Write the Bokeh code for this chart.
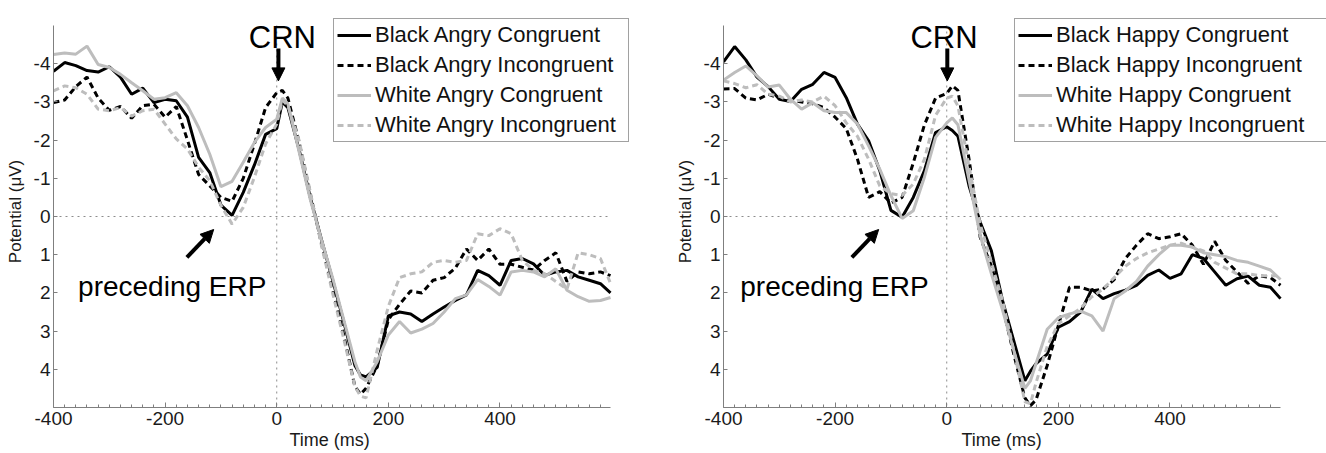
from bokeh.plotting import figure
from bokeh.models import (Range1d, FixedTicker, Legend, LegendItem, Label, Arrow, NormalHead,
                          Title)
from bokeh.layouts import row
from bokeh.embed import file_html
from bokeh.resources import INLINE

# ---------------- data ----------------
time_ms = [-400, -380, -360, -340, -320, -300, -280, -260, -240, -220, -200, -180, -160, -140,
           -120, -100, -80, -60, -40, -20, 0, 10, 20, 40, 60, 80, 100, 120, 140, 150, 160, 180,
           200, 220, 240, 260, 280, 300, 320, 340, 360, 380, 400, 420, 440, 460, 480, 500, 520,
           540, 560, 580, 598]

black_angry_congruent = [-3.8, -4.03, -3.95, -3.82, -3.78, -3.92, -3.65, -3.2, -3.36, -2.98, -3.07, -3.03,
                         -2.6, -1.55, -1.15, -0.3, -0.03, -0.63, -1.35, -2.15,
                         -2.3, -3.0, -2.85, -1.75, -0.5, 0.6, 1.65, 2.75, 3.9, 4.15, 4.2, 3.95, 2.6, 2.5,
                         2.55, 2.75, 2.55, 2.37, 2.2, 2.05, 1.41, 1.55, 1.8, 1.15, 1.1, 1.24, 1.54, 1.45,
                         1.41, 1.58, 1.67, 1.76, 2.0]
black_angry_incongruent = [-2.98, -3.05, -3.4, -3.65, -3.1, -2.78, -2.88, -2.57, -2.9, -2.94, -2.6, -2.88,
                           -2.0, -1.1, -0.8, -0.5, -0.4, -1.0, -1.9, -2.85,
                           -3.24, -3.3, -3.1, -1.95, -0.6, 0.7, 1.9, 3.1, 4.45, 4.65, 4.5, 3.9, 2.7, 2.3,
                           1.95, 2.0, 1.67, 1.6, 1.35, 0.85, 1.15, 0.85, 1.25, 1.25, 1.33, 1.4, 1.15, 0.95,
                           1.7, 1.45, 1.5, 1.45, 1.55]
white_angry_congruent = [-4.24, -4.28, -4.25, -4.46, -3.98, -3.9, -3.72, -3.5, -3.29, -3.07, -3.11, -3.24,
                         -2.9, -2.33, -1.63, -0.78, -0.92, -1.42, -1.94, -2.33,
                         -2.55, -3.1, -2.95, -1.7, -0.45, 0.6, 1.6, 2.7, 3.8, 4.2, 4.3, 3.8, 3.1, 2.75,
                         3.05, 2.95, 2.8, 2.5, 2.15, 2.05, 1.65, 1.83, 2.06, 1.45, 1.41, 1.45, 1.58, 1.37,
                         1.93, 2.1, 2.22, 2.2, 2.12]
white_angry_incongruent = [-3.29, -3.42, -3.37, -3.2, -2.81, -2.77, -2.85, -2.63, -2.77, -2.81, -2.42, -2.03,
                           -1.77, -1.29, -0.94, -0.29, 0.2, -0.24, -1.03, -1.9,
                           -2.42, -3.05, -2.9, -2.0, -0.65, 0.75, 2.0, 3.2, 4.45, 4.7, 4.75, 3.5, 2.35, 1.6,
                           1.5, 1.45, 1.2, 1.15, 1.2, 1.15, 0.45, 0.5, 0.32, 0.45, 1.15, 1.41, 1.5, 1.7,
                           1.9, 0.95, 1.0, 1.1, 1.75]

black_happy_congruent = [-4.05, -4.45, -4.1, -3.65, -3.4, -3.07, -3.01, -3.33, -3.46, -3.77, -3.64, -3.11,
                         -2.42, -1.98, -1.2, -0.16, 0.02, -0.5, -1.2, -2.2,
                         -2.35, -2.25, -2.1, -0.8, 0.15, 0.9, 2.2, 3.25, 4.3, 4.05, 3.85, 3.6, 2.9, 2.75,
                         2.5, 1.9, 2.15, 2.02, 1.93, 1.8, 1.54, 1.4, 1.62, 1.5, 1.0, 1.1, 1.45, 1.8,
                         1.63, 1.56, 1.8, 1.85, 2.15]
black_happy_incongruent = [-3.34, -3.35, -3.1, -3.05, -3.2, -3.1, -3.05, -3.0, -2.95, -2.85, -2.6, -2.3,
                           -1.5, -0.5, -0.65, -0.35, -0.5, -1.4, -2.4, -3.1,
                           -3.22, -3.42, -3.3, -1.5, 0.55, 1.3, 2.35, 3.6, 4.75, 4.95, 4.8, 3.9, 2.85, 1.85,
                           1.85, 1.95, 1.9, 1.65, 1.1, 0.75, 0.45, 0.58, 0.53, 0.45, 0.75, 1.25, 0.65, 1.15,
                           1.45, 1.75, 1.55, 1.6, 1.8]
white_happy_congruent = [-3.57, -3.77, -3.94, -3.68, -3.39, -3.44, -3.07, -2.81, -2.98, -2.77, -2.72, -2.72,
                         -2.42, -1.85, -1.24, -0.55, 0.05, -0.15, -1.03, -2.07,
                         -2.45, -2.58, -2.4, -0.95, 0.5, 1.5, 2.45, 3.5, 4.5, 4.3, 3.85, 2.95, 2.65, 2.55,
                         2.48, 2.6, 3.0, 2.15, 1.95, 1.7, 1.3, 1.0, 0.75, 0.75, 0.8, 0.95, 1.0, 1.05,
                         1.15, 1.2, 1.3, 1.4, 1.65]
white_happy_incongruent = [-3.55, -3.48, -3.37, -3.45, -3.2, -3.15, -3.0, -3.05, -3.0, -3.15, -2.9, -2.45,
                           -2.1, -1.5, -0.8, -0.6, -0.55, -0.85, -1.5, -2.65,
                           -3.1, -3.15, -2.9, -1.3, 0.2, 1.2, 2.2, 3.5, 4.85, 4.9, 4.35, 3.4, 2.8, 2.6,
                           2.4, 2.1, 1.9, 1.6, 1.3, 1.1, 0.95, 0.85, 0.75, 0.7, 0.8, 0.9, 1.2, 1.35,
                           1.5, 1.5, 1.55, 1.55, 1.55]

angry_labels = ["Black Angry Congruent", "Black Angry Incongruent",
                "White Angry Congruent", "White Angry Incongruent"]
happy_labels = ["Black Happy Congruent", "Black Happy Incongruent",
                "White Happy Congruent", "White Happy Incongruent"]
x_major_ticks = [-400, -200, 0, 200, 400]
y_major_ticks = [-4, -3, -2, -1, 0, 1, 2, 3, 4]
x_limits = (-400, 598)
y_limits = (-5, 5)

# ---------------- styling ----------------
FONT = "Liberation Sans"
BLACK = "#000000"
GRAY = "#bdbdbd"
AXIS_GRAY = "#7f7f7f"
STYLES = [(BLACK, "solid"), (BLACK, "6 4"), (GRAY, "solid"), (GRAY, "6 4")]
PX_PER_MS = 557 / 998.0
PX_PER_UV = 38.2
EXTRA_TOP = 10  # frame extends above the axes box so the legend is not clipped


def make_panel(series, labels, border_left, frame_w, border_right, legend_loc, legend_label_w,
               crn_x, crn_arrow_x, erp_x, erp_arrow, xlabel_offset):
    x_end = x_limits[0] + frame_w / PX_PER_MS
    y_top = y_limits[0] - EXTRA_TOP / PX_PER_UV
    p = figure(frame_width=frame_w, frame_height=382 + EXTRA_TOP,
               x_range=Range1d(x_limits[0], x_end), y_range=Range1d(y_limits[1], y_top),
               output_backend="svg", toolbar_location=None,
               min_border_left=border_left, min_border_top=25 - EXTRA_TOP, min_border_bottom=46,
               min_border_right=border_right)
    p.outline_line_color = None
    p.xgrid.visible = False
    p.ygrid.visible = False
    p.background_fill_color = "white"

    # dotted zero lines
    p.segment(x0=x_limits[0], y0=0, x1=x_limits[1], y1=0, line_color="#8c8c8c",
              line_dash="dotted", line_width=1, level="underlay")
    p.segment(x0=0, y0=y_limits[0], x1=0, y1=y_limits[1], line_color="#8c8c8c",
              line_dash="dotted", line_width=1, level="underlay")

    items = []
    for vals, lab, (col, dash) in zip(series, labels, STYLES):
        r = p.line(time_ms, vals, line_color=col, line_width=3, line_dash=dash)
        items.append(LegendItem(label=lab, renderers=[r]))

    for ax in (p.xaxis, p.yaxis):
        ax.axis_line_color = AXIS_GRAY
        ax.major_tick_line_color = AXIS_GRAY
        ax.minor_tick_line_color = AXIS_GRAY
        ax.major_tick_out = 0
        ax.minor_tick_out = 0
        ax.major_label_text_font = FONT
        ax.major_label_text_font_size = "19px"
        ax.major_label_text_color = "#1a1a1a"
        ax.axis_label_text_font = FONT
        ax.axis_label_text_font_size = "17px"
        ax.axis_label_text_font_style = "normal"
        ax.axis_label_text_color = "#1a1a1a"

    p.xaxis.bounds = x_limits
    p.xaxis.ticker = FixedTicker(ticks=x_major_ticks, minor_ticks=list(range(-400, 600, 20)))
    p.xaxis.major_label_overrides = {t: str(t) for t in x_major_ticks}
    p.xaxis.major_tick_in = 5
    p.xaxis.minor_tick_in = 3
    p.xaxis.major_label_standoff = 4

    p.yaxis.bounds = y_limits
    p.yaxis.ticker = FixedTicker(ticks=y_major_ticks)
    p.yaxis.major_label_overrides = {t: str(t) for t in y_major_ticks}
    p.yaxis.major_tick_in = 4
    p.yaxis.minor_tick_line_color = None
    p.yaxis.major_label_standoff = 3
    p.yaxis.axis_label = "Potential (\u03bcV)"
    p.yaxis.axis_label_standoff = 6

    # x axis title, centred under the axis line (not under the wider frame)
    p.add_layout(Title(text="Time (ms)", align="left", offset=xlabel_offset, standoff=0,
                       text_font=FONT, text_font_size="18px", text_font_style="normal",
                       text_color="#1a1a1a"), "below")

    legend = Legend(items=items, location=legend_loc,
                    border_line_color="#444444", border_line_width=1,
                    background_fill_color="white", background_fill_alpha=1.0,
                    label_text_font=FONT, label_text_font_size="22px", label_text_color="#111111",
                    glyph_width=34, glyph_height=26, label_height=26, label_width=legend_label_w,
                    label_standoff=4, spacing=4, padding=3, margin=0)
    p.add_layout(legend)

    p.add_layout(Label(x=crn_x, y=-4.68, text="CRN", text_align="center",
                       text_baseline="alphabetic", text_font=FONT, text_font_size="31px",
                       text_color="black"))
    p.add_layout(Arrow(end=NormalHead(size=13, fill_color="black", line_color="black"),
                       x_start=crn_arrow_x, y_start=-4.4, x_end=crn_arrow_x, y_end=-3.55,
                       line_width=4, line_color="black"))

    p.add_layout(Label(x=erp_x, y=1.82, text="preceding ERP", text_align="left",
                       text_baseline="alphabetic", text_font=FONT, text_font_size="28px",
                       text_color="black"))
    (xs, ys, xe, ye) = erp_arrow
    p.add_layout(Arrow(end=NormalHead(size=13, fill_color="black", line_color="black"),
                       x_start=xs, y_start=ys, x_end=xe, y_end=ye,
                       line_width=4, line_color="black"))
    return p


p1 = make_panel([black_angry_congruent, black_angry_incongruent,
                 white_angry_congruent, white_angry_incongruent],
                angry_labels, 53, 577, 42, (280, 265), 250, 10, 3, -356,
                (-161, 1.07, -113, 0.34), 236)
p2 = make_panel([black_happy_congruent, black_happy_incongruent,
                 white_happy_congruent, white_happy_incongruent],
                happy_labels, 45, 607, 2, (291, 265), 271, -5, 1, -370,
                (-170, 1.07, -122, 0.34), 238)

layout = row(p1, p2)
open("out.html", "w").write(file_html(layout, INLINE))
